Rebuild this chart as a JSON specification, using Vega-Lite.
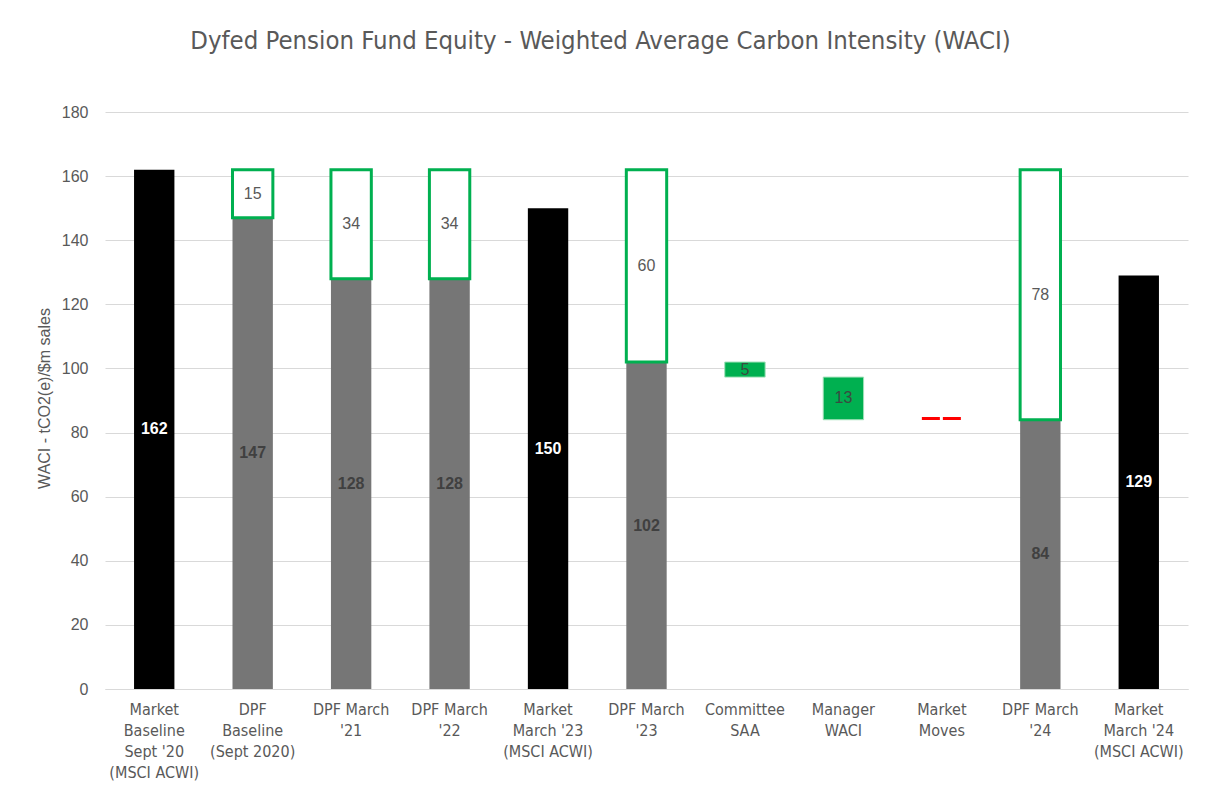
{
  "$schema": "https://vega.github.io/schema/vega-lite/v6.json",
  "width": 1083,
  "height": 577,
  "autosize": {"type": "none"},
  "padding": {"left": 105, "top": 112, "right": 17, "bottom": 107},
  "background": "white",
  "title": {
    "text": "Dyfed Pension Fund Equity - Weighted Average Carbon Intensity (WACI)",
    "font": "Liberation Sans Narrow, DejaVu Sans Condensed, sans-serif",
    "fontSize": 25.5,
    "fontWeight": "normal",
    "color": "#595959",
    "anchor": "middle",
    "dx": -46,
    "offset": 50
  },
  "config": {
    "view": {"stroke": null},
    "axis": {
      "labelColor": "#595959",
      "titleColor": "#595959",
      "gridColor": "#d9d9d9",
      "domainColor": "#d9d9d9"
    }
  },
  "data": {
    "values": [
      {"cat": "Market|Baseline|Sept '20|(MSCI ACWI)", "kind": "market", "lo": 0, "hi": 162, "label": "162"},
      {"cat": "DPF|Baseline|(Sept 2020)", "kind": "dpf", "lo": 0, "hi": 147, "label": "147"},
      {"cat": "DPF|Baseline|(Sept 2020)", "kind": "gap", "lo": 147, "hi": 162, "label": "15"},
      {"cat": "DPF March|'21", "kind": "dpf", "lo": 0, "hi": 128, "label": "128"},
      {"cat": "DPF March|'21", "kind": "gap", "lo": 128, "hi": 162, "label": "34"},
      {"cat": "DPF March|'22", "kind": "dpf", "lo": 0, "hi": 128, "label": "128"},
      {"cat": "DPF March|'22", "kind": "gap", "lo": 128, "hi": 162, "label": "34"},
      {"cat": "Market|March '23|(MSCI ACWI)", "kind": "market", "lo": 0, "hi": 150, "label": "150"},
      {"cat": "DPF March|'23", "kind": "dpf", "lo": 0, "hi": 102, "label": "102"},
      {"cat": "DPF March|'23", "kind": "gap", "lo": 102, "hi": 162, "label": "60"},
      {"cat": "Committee|SAA", "kind": "reduction", "lo": 97.3, "hi": 102, "label": "5"},
      {"cat": "Manager|WACI", "kind": "reduction", "lo": 84, "hi": 97.3, "label": "13"},
      {"cat": "Market|Moves", "kind": "moves", "lo": 84.4, "hi": 84.4, "label": ""},
      {"cat": "DPF March|'24", "kind": "dpf", "lo": 0, "hi": 84, "label": "84"},
      {"cat": "DPF March|'24", "kind": "gap", "lo": 84, "hi": 162, "label": "78"},
      {"cat": "Market|March '24|(MSCI ACWI)", "kind": "market", "lo": 0, "hi": 129, "label": "129"}
    ]
  },
  "transform": [{"calculate": "(datum.lo + datum.hi) / 2", "as": "mid"}],
  "encoding": {
    "x": {
      "field": "cat",
      "type": "nominal",
      "sort": null,
      "scale": {
        "domain": [
          "Market|Baseline|Sept '20|(MSCI ACWI)",
          "DPF|Baseline|(Sept 2020)",
          "DPF March|'21",
          "DPF March|'22",
          "Market|March '23|(MSCI ACWI)",
          "DPF March|'23",
          "Committee|SAA",
          "Manager|WACI",
          "Market|Moves",
          "DPF March|'24",
          "Market|March '24|(MSCI ACWI)"
        ],
        "paddingInner": 0.59,
        "paddingOuter": 0.295
      },
      "axis": {
        "title": null,
        "labelExpr": "split(datum.value, '|')",
        "labelAngle": 0,
        "labelFont": "Liberation Sans Narrow, DejaVu Sans Condensed, sans-serif",
        "labelFontSize": 16,
        "labelLineHeight": 21,
        "labelPadding": 12,
        "labelBaseline": "top",
        "ticks": false,
        "domain": true,
        "grid": false
      }
    }
  },
  "layer": [
    {
      "transform": [{"filter": "datum.kind === 'market' || datum.kind === 'dpf'"}],
      "mark": {"type": "bar"},
      "encoding": {
        "y": {
          "field": "hi",
          "type": "quantitative",
          "scale": {"domain": [0, 180], "nice": false},
          "axis": {
            "title": "WACI - tCO2(e)/$m sales",
            "titleFont": "Liberation Sans, Arial, sans-serif",
            "titleFontSize": 16,
            "titleFontWeight": "normal",
            "titleX": -53,
            "titleY": 286,
            "titleAlign": "center",
            "titleAngle": -90,
            "titleBaseline": "bottom",
            "labelFont": "Liberation Sans, Arial, sans-serif",
            "labelFontSize": 16,
            "labelPadding": 17,
            "values": [0, 20, 40, 60, 80, 100, 120, 140, 160, 180],
            "ticks": false,
            "domain": false,
            "grid": true
          }
        },
        "y2": {"field": "lo"},
        "color": {
          "field": "kind",
          "type": "nominal",
          "scale": {"domain": ["market", "dpf"], "range": ["#000000", "#767676"]},
          "legend": null
        }
      }
    },
    {
      "transform": [{"filter": "datum.kind === 'gap'"}],
      "mark": {"type": "bar", "fill": "#ffffff", "stroke": "#00B050", "strokeWidth": 3},
      "encoding": {
        "y": {"field": "hi", "type": "quantitative"},
        "y2": {"field": "lo"}
      }
    },
    {
      "transform": [{"filter": "datum.kind === 'reduction'"}],
      "mark": {"type": "bar", "fill": "#00B050", "stroke": "#9fe0b8", "strokeWidth": 1},
      "encoding": {
        "y": {"field": "hi", "type": "quantitative"},
        "y2": {"field": "lo"}
      }
    },
    {
      "transform": [{"filter": "datum.kind === 'moves'"}],
      "mark": {"type": "bar", "fill": null, "stroke": "#FF0000", "strokeWidth": 3, "strokeDash": [18, 3, 18, 100], "size": 40},
      "encoding": {
        "y": {"field": "hi", "type": "quantitative"},
        "y2": {"field": "lo"}
      }
    },
    {
      "transform": [{"filter": "datum.label !== '' && (datum.kind === 'market' || datum.kind === 'dpf')"}],
      "mark": {"type": "text", "font": "Liberation Sans, Arial, sans-serif", "fontSize": 16, "fontWeight": "bold", "baseline": "middle", "align": "center"},
      "encoding": {
        "y": {"field": "mid", "type": "quantitative"},
        "text": {"field": "label"},
        "color": {
          "field": "kind",
          "type": "nominal",
          "scale": {"domain": ["market", "dpf"], "range": ["#ffffff", "#404040"]},
          "legend": null
        }
      }
    },
    {
      "transform": [{"filter": "datum.kind === 'gap' || datum.kind === 'reduction'"}],
      "mark": {"type": "text", "font": "Liberation Sans, Arial, sans-serif", "fontSize": 16, "baseline": "middle", "align": "center"},
      "encoding": {
        "y": {"field": "mid", "type": "quantitative"},
        "text": {"field": "label"},
        "color": {
          "field": "kind",
          "type": "nominal",
          "scale": {"domain": ["gap", "reduction"], "range": ["#595959", "#3a4a40"]},
          "legend": null
        }
      }
    }
  ],
  "resolve": {"scale": {"color": "independent"}}
}
